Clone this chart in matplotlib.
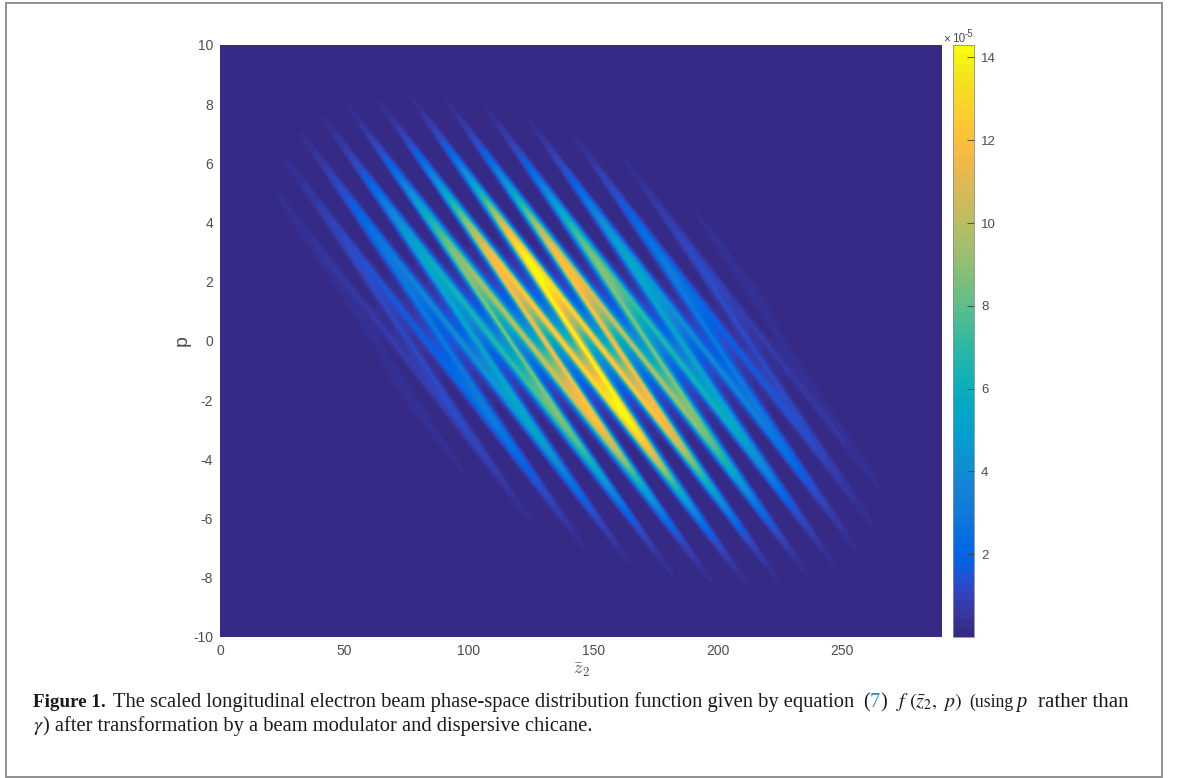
import numpy as np
import matplotlib
matplotlib.use("Agg")
import matplotlib.pyplot as plt
from matplotlib.colors import ListedColormap
from matplotlib.patches import Rectangle

W, H = 1179, 778

# stripe folds: position along the shear, p of the fold, peak (x1e-5)
fold_u = [45, 52, 59, 65.4, 72.4, 78.9, 86, 92.8, 99.8, 106.2, 113.7, 119.4, 127.4, 133.5, 140.7,
          147.7, 154.5, 161, 168, 174.9, 181.7, 188.6, 195.3, 202.1, 209, 215.6, 222.6, 229, 236, 243]
fold_p = [-2.5, 2.5, -2.5, 2.5, -2.5, 2.5, -2.5, 2.5, -2.5, 2.5, -2.5, 2.5, -2.5, 2.5, -2.5,
          2.5, -2.5, 2.5, -2.5, 2.5, -2.5, 2.5, -2.5, 2.5, -2.5, 2.5, -2.5, 2.5, -2.5, 2.5]
fold_amp = [0.03, 0.08, 0.35, 0.45, 1.2, 1.2, 3.0, 3.0, 5.5, 5.5, 8.8, 8.8, 12.3, 11.8, 14.3,
            14.3, 11.8, 12.3, 8.8, 8.8, 5.5, 5.5, 3.0, 3.0, 1.2, 1.2, 0.45, 0.35, 0.08, 0.03]
shear = 8.6
ridge_width = 2.0

xticks = [0, 50, 100, 150, 200, 250]
yticks = [-10, -8, -6, -4, -2, 0, 2, 4, 6, 8, 10]
cticks = [2, 4, 6, 8, 10, 12, 14]

parula = [[0.2081,0.1663,0.5292],[0.2116,0.1898,0.5777],[0.2123,0.2138,0.6270],[0.2081,0.2386,0.6771],
          [0.1959,0.2645,0.7279],[0.1707,0.2919,0.7792],[0.1253,0.3242,0.8303],[0.0591,0.3598,0.8683],
          [0.0117,0.3875,0.8820],[0.0060,0.4086,0.8828],[0.0165,0.4266,0.8786],[0.0329,0.4430,0.8720],
          [0.0498,0.4586,0.8641],[0.0629,0.4737,0.8554],[0.0723,0.4887,0.8467],[0.0779,0.5040,0.8384],
          [0.0793,0.5200,0.8312],[0.0749,0.5375,0.8263],[0.0641,0.5570,0.8240],[0.0488,0.5772,0.8228],
          [0.0343,0.5966,0.8199],[0.0265,0.6137,0.8135],[0.0239,0.6287,0.8038],[0.0231,0.6418,0.7913],
          [0.0228,0.6535,0.7768],[0.0267,0.6642,0.7607],[0.0384,0.6743,0.7436],[0.0590,0.6838,0.7254],
          [0.0843,0.6928,0.7062],[0.1133,0.7015,0.6859],[0.1453,0.7098,0.6646],[0.1801,0.7177,0.6424],
          [0.2178,0.7250,0.6193],[0.2586,0.7317,0.5954],[0.3022,0.7376,0.5712],[0.3482,0.7424,0.5473],
          [0.3953,0.7459,0.5244],[0.4420,0.7481,0.5033],[0.4871,0.7491,0.4840],[0.5300,0.7491,0.4661],
          [0.5709,0.7485,0.4494],[0.6099,0.7473,0.4337],[0.6473,0.7456,0.4188],[0.6834,0.7435,0.4044],
          [0.7184,0.7411,0.3905],[0.7525,0.7384,0.3768],[0.7858,0.7356,0.3633],[0.8185,0.7327,0.3498],
          [0.8507,0.7299,0.3360],[0.8824,0.7274,0.3217],[0.9139,0.7258,0.3063],[0.9450,0.7261,0.2886],
          [0.9739,0.7314,0.2666],[0.9938,0.7455,0.2403],[0.9990,0.7653,0.2164],[0.9955,0.7861,0.1967],
          [0.9880,0.8066,0.1794],[0.9789,0.8271,0.1633],[0.9697,0.8481,0.1475],[0.9626,0.8705,0.1309],
          [0.9589,0.8949,0.1132],[0.9598,0.9218,0.0948],[0.9661,0.9514,0.0755],[0.9763,0.9831,0.0538]]
cmap = ListedColormap(parula)

GREY = "#4d4d4d"
plt.rcParams["font.family"] = ["Liberation Sans", "DejaVu Sans"]
plt.rcParams["mathtext.fontset"] = "cm"
plt.rcParams["axes.unicode_minus"] = False


def box(l, t, r, b):
    # pixel box to figure fractions
    return [l / W, 1 - b / H, (r - l) / W, (b - t) / H]


def fx(px):
    return px / W


def fy(py):
    return 1 - py / H


# rasterise the folds onto a grid
z = np.linspace(0, 290, 800)
p = np.linspace(-10, 10, 800)
zz, pp = np.meshgrid(z, p)
uu = zz + shear * pp
fu = np.array(fold_u)
idx = np.clip(np.searchsorted(fu, uu) - 1, 0, len(fu) - 2)
t = np.clip((uu - fu[idx]) / (fu[idx + 1] - fu[idx]), 0, 1)
t = t ** 3 * (t * (6 * t - 15) + 10)  # ridge lingers at each fold, crosses quickly
fp = np.array(fold_p)
centre = fp[idx] + (fp[idx + 1] - fp[idx]) * t
amp = np.exp(np.interp(uu, fu, np.log(fold_amp)))
amp[(uu < fu[0]) | (uu > fu[-1])] = 0
field = amp * np.exp(-(pp - centre) ** 2 / (2 * ridge_width ** 2))

fig = plt.figure(figsize=(W / 100, H / 100), dpi=100)

ax = fig.add_axes(box(220, 45, 942, 637))
im = ax.imshow(field, extent=[0, 290, -10, 10], origin="lower", aspect="auto",
               cmap=cmap, vmin=0, vmax=14.3, interpolation="bilinear")
ax.set_xticks(xticks)
ax.set_yticks(yticks)
ax.tick_params(length=0, labelsize=10, labelcolor=GREY, pad=5)
for s in ax.spines.values():
    s.set_visible(False)
ax.set_xlabel(r"$\bar{z}_2$", fontsize=13, color=GREY, labelpad=2)
ax.set_ylabel("p", fontsize=14, color=GREY, labelpad=2)

cax = fig.add_axes(box(953, 45, 974, 637))
cb = fig.colorbar(im, cax=cax)
cb.set_ticks(cticks)
cb.ax.tick_params(direction="in", length=5, width=0.6, color="#404040", labelsize=9.5, labelcolor=GREY, pad=5)
cb.outline.set_edgecolor("#8c8c8c")
cb.outline.set_linewidth(0.6)
fig.text(fx(943), fy(42), "\u00d7", fontsize=8.5, color=GREY)
fig.text(fx(952), fy(42), "10", fontsize=8.5, color=GREY)
fig.text(fx(965), fy(37), "-5", fontsize=7, color=GREY)

# page frame
fig.add_artist(Rectangle((fx(6), fy(777)), (1162 - 6) / W, (777 - 3) / H, transform=fig.transFigure,
                         fill=False, edgecolor="#8f8f8f", linewidth=1.4))

# caption
SERIF = ["Liberation Serif", "DejaVu Serif"]
size = 14.8
fig.text(fx(33), fy(707), "Figure 1.", fontsize=13.8, family=SERIF, weight="bold", color="#1a1a1a")
fig.text(fx(113), fy(707), "The scaled longitudinal electron beam phase-space distribution function given by equation",
         fontsize=size, family=SERIF, color="#1a1a1a")
fig.text(fx(863), fy(707), "(", fontsize=size, family=SERIF, color="#1a1a1a")
fig.text(fx(870), fy(707), "7", fontsize=size, family=SERIF, color="#2e8fc0")
fig.text(fx(880), fy(707), ")", fontsize=size, family=SERIF, color="#1a1a1a")
fig.text(fx(896), fy(707), r"$f\ (\bar{z}_2,\ p)$", fontsize=14.3, color="#1a1a1a", math_fontfamily="stix")
fig.text(fx(969), fy(707), "(using", fontsize=12.8, family=SERIF, color="#1a1a1a")
fig.text(fx(1016), fy(707), "p", fontsize=size, family=SERIF, style="italic", color="#1a1a1a")
fig.text(fx(1038), fy(707), "rather than", fontsize=15, family=SERIF, color="#1a1a1a")
fig.text(fx(33), fy(731), r"$\gamma$", fontsize=size, color="#1a1a1a", math_fontfamily="stix")
fig.text(fx(43), fy(731), ") after transformation by a beam modulator and dispersive chicane.",
         fontsize=size, family=SERIF, color="#1a1a1a")

fig.savefig("out.png", dpi=100)
